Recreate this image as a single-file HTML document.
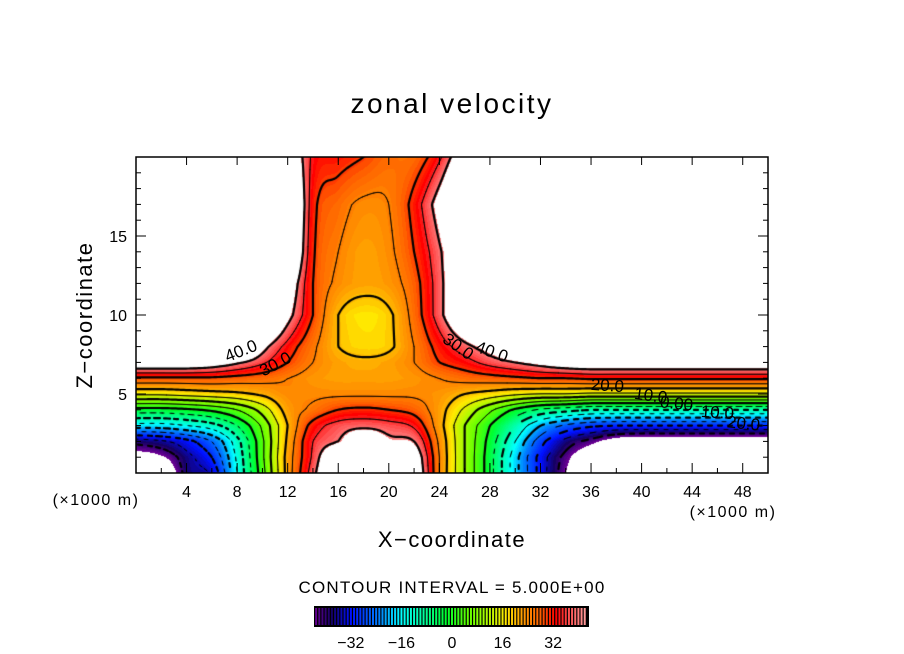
<!DOCTYPE html>
<html><head><meta charset="utf-8"><style>
html,body{margin:0;padding:0;background:#fff;width:904px;height:654px;overflow:hidden;font-family:"Liberation Sans",sans-serif;}
#stage{position:relative;width:904px;height:654px;}
canvas{position:absolute;left:136px;top:157px;}
svg{position:absolute;left:0;top:0;}
</style></head><body><div id="stage">
<canvas id="field" width="632" height="316"></canvas>
<svg id="ov" width="904" height="654"></svg>
</div>
<script>
const xCoords=[0,2,4,6,8,10,12,14,16,18,20,22,24,26,28,30,32,34,36,38,40,42,44,46,48,50];
const zLevels=[0,1,2,3,4,5,6,7,8,10,12,14,17,20];
const uZ0=[-70,-55,-38,-34,-15,3,22,38,55,60,60,48,25,10,-3,-18,-32,-44,-60,-60,-60,-60,-60,-60,-60,-60];
const uZ1=[-48,-45,-37,-30,-14,4,22,36,52,60,58,46,25,10,-3,-18,-32,-42,-52,-58,-60,-60,-60,-60,-60,-60];
const uZ2=[-38,-36,-32,-25,-12,4,21,35,40,50,42,40,24,10,-2,-15,-28,-37,-42,-48,-50,-50,-50,-50,-50,-50];
const uZ3=[-17,-17,-15,-12,-5,6,20,32,37,38,37,34,22,10,0,-10,-20,-26,-29,-30,-30,-30,-30,-30,-30,-30];
const uZ4=[-2,-2,-1,1,5,12,22,26,30,31,30,28,22,14,6,-1,-6,-8,-10,-10,-10,-10,-10,-10,-10,-10];
const uZ5=[16,16,17,18,19,21,24,24,24,24,24,24,23,20,18,16,15,15,14,14,14,14,14,14,14,14];
const uZ6=[29,29,29,29,28,27,25,23,22,22,22,23,25,27,28,29,30,30,31,31,31,31,31,31,31,31];
const uZ7=[47,47,47,45,41,36,30,25,22,21,22,25,30,33,37,40,43,46,47,47,47,47,47,47,47,47];
const uZ8=[60,60,60,60,60,43,33,26,20,18,19,25,32,38,44,52,60,60,60,60,60,60,60,60,60,60];
const uZ10=[60,60,60,60,60,60,43,30,20,17,19,27,38,52,60,60,60,60,60,60,60,60,60,60,60,60];
const uZ12=[60,60,60,60,60,60,47,30,24,22,23,28,38,52,60,60,60,60,60,60,60,60,60,60,60,60];
const uZ14=[60,60,60,60,60,60,55,31,25,22,24,30,39,52,60,60,60,60,60,60,60,60,60,60,60,60];
const uZ17=[60,60,60,60,60,60,58,32,27,24,25,32,44,60,60,60,60,60,60,60,60,60,60,60,60,60];
const uZ20=[60,60,60,60,60,60,50,34,32,30,27,27,34,48,60,60,60,60,60,60,60,60,60,60,60,60];
const xTickLabels=[4,8,12,16,20,24,28,32,36,40,44,48];
const zTickLabels=[5,10,15];
const cbarTicks=[-32,-16,0,16,32];
const contourLevels=[-40,-35,-30,-25,-20,-15,-10,-5,0,5,10,15,20,25,30,35,40];

const rows=[uZ0,uZ1,uZ2,uZ3,uZ4,uZ5,uZ6,uZ7,uZ8,uZ10,uZ12,uZ14,uZ17,uZ20];
const X0=136,X1=768,Y0=157,Y1=473,XMAX=50,ZMAX=20;
const sx=x=>X0+x/XMAX*(X1-X0);
const sz=z=>Y1-z/ZMAX*(Y1-Y0);
const stops=[[-44,[112,0,150]],[-38,[20,0,100]],[-32,[0,16,255]],[-23,[0,128,255]],[-16,[0,255,255]],[-8,[0,255,144]],[-2,[0,255,48]],[5,[96,255,0]],[10,[160,255,0]],[17,[255,232,0]],[22,[255,160,0]],[28,[255,96,0]],[33,[255,0,0]],[37,[255,80,80]],[42,[255,152,152]]];
function col(v){
 if(v<=stops[0][0])return stops[0][1];
 for(let i=0;i<stops.length-1;i++){const a=stops[i],b=stops[i+1];
  if(v<=b[0]){const t=(v-a[0])/(b[0]-a[0]);return [0,1,2].map(k=>Math.round(a[1][k]+(b[1][k]-a[1][k])*t));}}
 return stops[stops.length-1][1];
}
function rowAt(r,x){
 const dx=xCoords[1]-xCoords[0];const f=x/dx;let i=Math.floor(f);if(i>=r.length-1)i=r.length-2;const t=f-i;
 const g=k=>r[Math.max(0,Math.min(r.length-1,k))];
 const p0=g(i-1),p1=g(i),p2=g(i+1),p3=g(i+2);
 return 0.5*((2*p1)+(-p0+p2)*t+(2*p0-5*p1+4*p2-p3)*t*t+(-p0+3*p1-3*p2+p3)*t*t*t);
}
function field(x,z){
 let i=0;while(i<zLevels.length-2&&z>zLevels[i+1])i++;
 const t=Math.max(0,Math.min(1,(z-zLevels[i])/(zLevels[i+1]-zLevels[i])));
 return rowAt(rows[i],x)*(1-t)+rowAt(rows[i+1],x)*t;
}
const cv=document.getElementById('field');const ctx=cv.getContext('2d');
const W=cv.width,H=cv.height;const img=ctx.createImageData(W,H);
for(let py=0;py<H;py++){for(let px=0;px<W;px++){
 const x=(px+0.5)/W*XMAX,z=(H-py-0.5)/H*ZMAX;const v=field(x,z);const o=(py*W+px)*4;
 let c;if(v>41||v<-44)c=[255,255,255];else c=col(Math.round(v));
 img.data[o]=c[0];img.data[o+1]=c[1];img.data[o+2]=c[2];img.data[o+3]=255;}}
ctx.putImageData(img,0,0);
const S=2,nx=Math.floor(W/S)+1,ny=Math.floor(H/S)+1;const G=[];
for(let j=0;j<ny;j++){G[j]=[];for(let i=0;i<nx;i++){G[j][i]=field(Math.min(i*S,W)/W*XMAX,(H-Math.min(j*S,H))/H*ZMAX);}}
ctx.strokeStyle='#000';ctx.lineCap='round';
contourLevels.forEach(L=>{
 ctx.lineWidth=(L%10===0)?2.2:1;ctx.beginPath();
 for(let j=0;j<ny-1;j++)for(let i=0;i<nx-1;i++){
  const a=G[j][i],b=G[j][i+1],c=G[j+1][i+1],d=G[j+1][i];
  const pts=[];const x0=i*S,y0=j*S;
  const e=(p,q,P,Q)=>{if((p<L)!==(q<L)){const t=(L-p)/(q-p);pts.push([P[0]+(Q[0]-P[0])*t,P[1]+(Q[1]-P[1])*t]);}};
  e(a,b,[x0,y0],[x0+S,y0]);e(b,c,[x0+S,y0],[x0+S,y0+S]);e(c,d,[x0+S,y0+S],[x0,y0+S]);e(d,a,[x0,y0+S],[x0,y0]);
  for(let k=0;k+1<pts.length;k+=2){const m=[(pts[k][0]+pts[k+1][0])/2,(pts[k][1]+pts[k+1][1])/2];
   if(L<0&&Math.floor((m[0]+m[1])/5)%2===1)continue;
   ctx.moveTo(pts[k][0],pts[k][1]);ctx.lineTo(pts[k+1][0],pts[k+1][1]);}
 }
 ctx.stroke();
});
const NS='http://www.w3.org/2000/svg';const ov=document.getElementById('ov');
function mk(tag,attrs,name,text){const el=document.createElementNS(NS,tag);for(const k in attrs)el.setAttribute(k,attrs[k]);
 
 
 if(text!==undefined)el.textContent=text;ov.appendChild(el);return el;}
mk('rect',{x:X0,y:Y0,width:X1-X0,height:Y1-Y0,fill:'none',stroke:'#000','stroke-width':1.5},'plot-frame');
for(let x=2;x<50;x+=2){const big=x%4===0;
 mk('line',{x1:sx(x),x2:sx(x),y1:Y1,y2:Y1-(big?10:5),stroke:'#000','stroke-width':1},'x-tick-bottom');
 if(big)mk('line',{x1:sx(x),x2:sx(x),y1:Y0,y2:Y0+8,stroke:'#000','stroke-width':1},'x-tick-top');}
for(let z=1;z<20;z++){const big=z%5===0;
 mk('line',{x1:X0,x2:X0+(big?10:5),y1:sz(z),y2:sz(z),stroke:'#000','stroke-width':1},'z-tick-left');
 mk('line',{x1:X1,x2:X1-(big?10:5),y1:sz(z),y2:sz(z),stroke:'#000','stroke-width':1},'z-tick-right');}
xTickLabels.forEach(v=>{mk('text',{x:sx(v),y:497,'font-size':16,'text-anchor':'middle'},'x-tick-label',String(v));});
zTickLabels.forEach(v=>{mk('text',{x:127,y:sz(v)+6,'font-size':16,'text-anchor':'end'},'z-tick-label',String(v));});
mk('text',{x:452,y:113,'font-size':28,'text-anchor':'middle','letter-spacing':2.5},'chart-title','zonal velocity');
mk('text',{x:452,y:547,'font-size':22,'text-anchor':'middle','letter-spacing':1.5},'x-axis-title','X\u2212coordinate');
mk('text',{x:0,y:0,'font-size':22,'text-anchor':'middle','letter-spacing':1.5,transform:'translate(92,315) rotate(-90)'},'y-axis-title','Z\u2212coordinate');
mk('text',{x:96,y:505,'font-size':16,'text-anchor':'middle','letter-spacing':1.5},'x-unit-left','(\u00d71000 m)');
mk('text',{x:733,y:517,'font-size':16,'text-anchor':'middle','letter-spacing':1.5},'x-unit-right','(\u00d71000 m)');
mk('text',{x:452,y:593,'font-size':17,'text-anchor':'middle','letter-spacing':1.2},'contour-interval-note','CONTOUR INTERVAL = 5.000E+00');
[['40.0',243,356,-22],['30.0',278,369,-28],['30.0',455,351,35],['40.0',490,357,20],['20.0',607,391,4],['10.0',650,401,8],['0.00',676,409,6],['10.0',717,418,4],['20.0',743,429,6]].forEach(l=>{
 mk('text',{x:0,y:0,'font-size':17,'text-anchor':'middle',transform:`translate(${l[1]},${l[2]}) rotate(${l[3]})`},'contour-label',l[0]);});
const CB0=315,CB1=588,cbv=x=>452+x*3.16;
mk('rect',{x:CB0-1,y:606,width:CB1-CB0+2,height:21,fill:'#000'},'colorbar-frame');
for(let v=-43;v<=42;v+=1){const c=col(v);
 mk('rect',{x:cbv(v)-1,y:608,width:2,height:17,fill:`rgb(${c[0]},${c[1]},${c[2]})`},'colorbar-swatch');}
cbarTicks.forEach(v=>{mk('text',{x:cbv(v),y:648,'font-size':16,'text-anchor':'middle'},'colorbar-tick-label',v<0?'\u2212'+Math.abs(v):String(v));});
</script></body></html>
